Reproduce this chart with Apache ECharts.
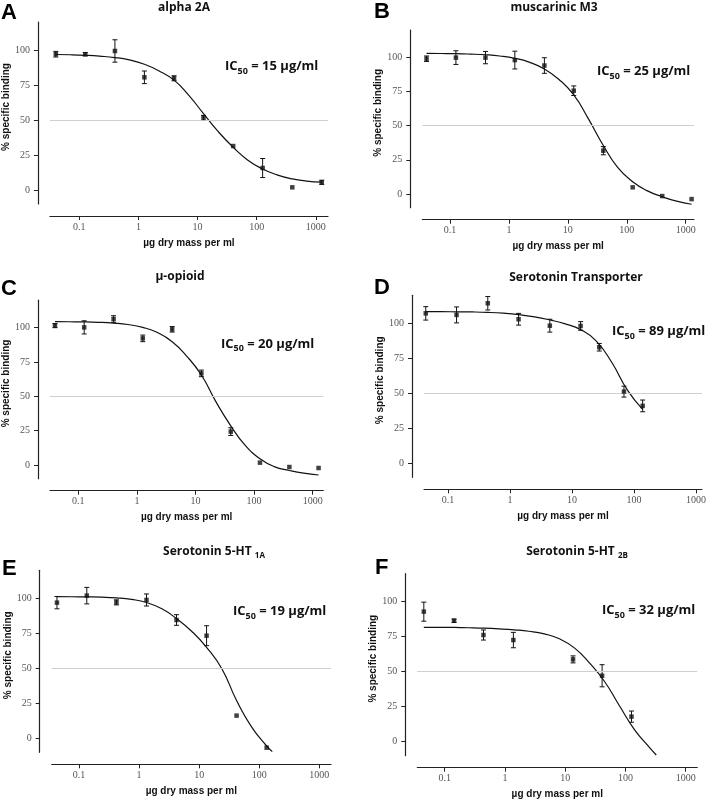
<!DOCTYPE html>
<html>
<head>
<meta charset="utf-8">
<script src="https://cdn.jsdelivr.net/npm/echarts@6/dist/echarts.min.js"></script>
<style>
html, body { margin: 0; padding: 0; background: #fff; }
#chart { width: 709px; height: 802px; }
</style>
</head>
<body>
<div id="chart"></div>
<script>
// tick labels
const xTickValues = [0.1, 1, 10, 100, 1000];
const xTickLabels = ['0.1', '1', '10', '100', '1000'];
const yTickValues = [0, 25, 50, 75, 100];

const panelLetters = ['A', 'B', 'C', 'D', 'E', 'F'];
const panelTitles = ['alpha 2A', 'muscarinic M3', 'µ-opioid', 'Serotonin Transporter', 'Serotonin 5-HT ', 'Serotonin 5-HT '];
const titleSubs = ['', '', '', '', '1A', '2B'];
const ic50Values = ['15', '25', '20', '89', '19', '32'];

// A - alpha 2A
const concA = [0.04, 0.126, 0.4, 1.26, 4, 12.6, 40, 126, 400, 1260];
const bindA = [97, 97, 99.3, 80.5, 79.8, 51.5, 31.4, 15.7, 1.9, 5.5];
const semA = [2, 1.2, 8, 4.5, 1.8, 1.8, 0, 6.8, 0, 1.5];
const fitConcA = [0.04, 0.07, 0.126, 0.22, 0.4, 0.7, 1.26, 2.2, 4, 7, 12.6, 22, 40, 70, 126, 220, 400, 700, 1260];
const fitBindA = [96.8, 96.6, 96.2, 95.6, 94.6, 92.9, 89.8, 85.2, 78.5, 68, 54.5, 42, 30.5, 21.5, 15, 10.8, 7.9, 6.4, 5.6];

// B - muscarinic M3
const concB = [0.04, 0.126, 0.4, 1.26, 4, 12.6, 40, 126, 400, 1260];
const bindB = [99, 99.8, 99.8, 98, 94, 75.6, 31.7, 4.9, -1.5, -3.7];
const semB = [2, 5, 4.5, 6.5, 5.7, 3.5, 3, 0, 0, 0];
const fitConcB = [0.04, 0.07, 0.126, 0.22, 0.4, 0.7, 1.26, 2.2, 4, 7, 12.6, 22, 40, 70, 126, 220, 400, 700, 1260];
const fitBindB = [102.9, 102.8, 102.7, 102.4, 101.9, 101, 99.3, 96.5, 91.5, 84, 72.5, 55.5, 35.5, 19.5, 9, 2.5, -2, -5.2, -7.5];

// C - mu-opioid
const concC = [0.04, 0.126, 0.4, 1.26, 4, 12.6, 40, 126, 400, 1260];
const bindC = [101.5, 100.2, 106.3, 92.2, 98.8, 66.7, 24.3, 1.7, -1.5, -2.2];
const semC = [1.5, 4.8, 2.4, 2.4, 2, 2.4, 2.8, 0, 0, 0];
const fitConcC = [0.04, 0.07, 0.126, 0.22, 0.4, 0.7, 1.26, 2.2, 4, 7, 12.6, 22, 40, 70, 126, 220, 400, 700, 1260];
const fitBindC = [104.4, 104.3, 104.2, 103.9, 103.3, 102.3, 100.2, 96.6, 89.8, 79.5, 65.5, 46.5, 28.5, 14.5, 4.5, -1.2, -4, -6, -7.3];

// D - serotonin transporter
const concD = [0.044, 0.138, 0.44, 1.38, 4.4, 13.8, 27.6, 69, 138];
const bindD = [107.1, 106, 114.3, 102.9, 98.3, 98.1, 82.9, 51.2, 41];
const semD = [4.8, 5.7, 4.8, 4.2, 4.6, 3.1, 2.7, 3.9, 4.2];
const fitConcD = [0.044, 0.078, 0.138, 0.25, 0.44, 0.78, 1.38, 2.5, 4.4, 7.8, 13.8, 24.5, 44, 78, 138];
const fitBindD = [108.3, 108.3, 108.2, 108.1, 107.8, 107.2, 106.2, 104.6, 102.4, 99.6, 95.5, 87.5, 72, 52.5, 38.5];

// E - 5-HT1A
const concE = [0.043, 0.135, 0.42, 1.33, 4.2, 13.3, 42, 133];
const bindE = [96.9, 101.9, 97.1, 98.8, 84.5, 73.3, 16.2, -6.7];
const semE = [4.4, 5.9, 1.8, 4.3, 3.8, 7.1, 0, 0];
const fitConcE = [0.042, 0.075, 0.133, 0.24, 0.42, 0.75, 1.33, 2.4, 4.2, 7.5, 13.3, 24, 42, 75, 133, 165];
const fitBindE = [101.2, 101.1, 101, 100.8, 100.3, 99.2, 97, 92.5, 85.5, 76.5, 65, 49.5, 27, 8, -5.5, -9.5];

// F - 5-HT2B
const concF = [0.045, 0.143, 0.44, 1.38, 13.5, 41, 126];
const bindF = [92.9, 86.4, 76.2, 72.6, 58.8, 47.1, 17.9];
const semF = [6.8, 1.2, 3.6, 5.5, 2.5, 7.9, 4];
const fitConcF = [0.045, 0.08, 0.142, 0.25, 0.45, 0.8, 1.42, 2.5, 4.5, 8, 14.2, 25, 45, 80, 142, 250, 325];
const fitBindF = [81.7, 81.7, 81.6, 81.4, 81.1, 80.6, 79.9, 78.9, 77, 73.5, 67, 56.5, 43, 25.5, 8.5, -4, -9.5];

const panels = [
    { conc: concA, bind: bindA, sem: semA, fitConc: fitConcA, fitBind: fitBindA },
    { conc: concB, bind: bindB, sem: semB, fitConc: fitConcB, fitBind: fitBindB },
    { conc: concC, bind: bindC, sem: semC, fitConc: fitConcC, fitBind: fitBindC },
    { conc: concD, bind: bindD, sem: semD, fitConc: fitConcD, fitBind: fitBindD },
    { conc: concE, bind: bindE, sem: semE, fitConc: fitConcE, fitBind: fitBindE },
    { conc: concF, bind: bindF, sem: semF, fitConc: fitConcF, fitBind: fitBindF }
];

// layout of each panel (pixels) and x range (log10)
const layout = [
    { left: 48, top: 22, width: 280, height: 182, xMin: -1.498, xMax: 3.206, title: [184, 8], letter: [1, 12.5], ic: [225, 66.5] },
    { left: 422.3, top: 30, width: 271.7, height: 177.7, xMin: -1.47, xMax: 3.141, title: [554, 8], letter: [374, 12], ic: [597, 71.5] },
    { left: 50, top: 300.2, width: 273.3, height: 178.5, xMin: -1.483, xMax: 3.181, title: [180, 277], letter: [1, 288.5], ic: [221, 344] },
    { left: 424, top: 295.3, width: 279.3, height: 182, xMin: -1.385, xMax: 3.096, title: [576, 277.5], letter: [374, 288], ic: [612, 331.5] },
    { left: 51.7, top: 570.3, width: 279.3, height: 182, xMin: -1.454, xMax: 3.195, title: [214, 552], letter: [2, 569], ic: [233, 611.5] },
    { left: 417.3, top: 573.7, width: 280, height: 182, xMin: -1.455, xMax: 3.193, title: [577, 552], letter: [375, 568], ic: [602, 610.5] }
];

const chart = echarts.init(document.getElementById('chart'));

const xTickLog = xTickValues.map(v => Math.log10(v));
const axisColor = '#222';
const labelFont = 'Liberation Serif';
const textFont = 'Open Sans';

function errorBar(params, api) {
    const x = api.value(0), y = api.value(1), e = api.value(2);
    const hi = api.coord([x, y + e]);
    const lo = api.coord([x, y - e]);
    const hw = 2.5;
    const st = { stroke: '#111', lineWidth: 1 };
    return {
        type: 'group',
        children: [
            { type: 'line', shape: { x1: hi[0], y1: hi[1], x2: lo[0], y2: lo[1] }, style: st },
            { type: 'line', shape: { x1: hi[0] - hw, y1: hi[1], x2: hi[0] + hw, y2: hi[1] }, style: st },
            { type: 'line', shape: { x1: lo[0] - hw, y1: lo[1], x2: lo[0] + hw, y2: lo[1] }, style: st }
        ]
    };
}

const grids = [], xAxes = [], yAxes = [], series = [], titles = [];

panels.forEach((p, i) => {
    const L = layout[i];
    grids.push({ left: L.left, top: L.top, width: L.width, height: L.height });

    xAxes.push({
        gridIndex: i,
        type: 'value',
        min: L.xMin,
        max: L.xMax,
        offset: 12,
        axisLine: { show: true, onZero: false, lineStyle: { color: axisColor, width: 1.2 } },
        axisTick: { show: true, length: 4, customValues: xTickLog, lineStyle: { color: axisColor } },
        axisLabel: {
            customValues: xTickLog,
            margin: 6,
            fontFamily: labelFont,
            fontSize: 10,
            color: '#555',
            formatter: v => {
                const k = xTickLog.findIndex(t => Math.abs(t - v) < 1e-6);
                return k >= 0 ? xTickLabels[k] : '';
            }
        },
        splitLine: { show: false },
        name: 'µg dry mass per ml',
        nameLocation: 'middle',
        nameGap: 22,
        nameTextStyle: { fontFamily: 'Liberation Sans', fontWeight: 'bold', fontSize: 10, color: '#111' }
    });

    yAxes.push({
        gridIndex: i,
        type: 'value',
        min: -10,
        max: 120,
        offset: 12,
        axisLine: { show: true, onZero: false, lineStyle: { color: axisColor, width: 1.2 } },
        axisTick: { show: true, length: 4, customValues: yTickValues, lineStyle: { color: axisColor } },
        axisLabel: { customValues: yTickValues, margin: 8, fontFamily: labelFont, fontSize: 10, color: '#555' },
        splitLine: { show: false },
        name: '% specific binding',
        nameLocation: 'middle',
        nameGap: 25,
        nameTextStyle: { fontFamily: 'Liberation Sans', fontWeight: 'bold', fontSize: 10, color: '#111', padding: [0, 0, 0, 12] }
    });

    // fitted curve + 50% reference line
    series.push({
        type: 'line',
        xAxisIndex: i,
        yAxisIndex: i,
        data: p.fitConc.map((c, k) => [Math.log10(c), p.fitBind[k]]),
        smooth: 0.5,
        showSymbol: false,
        symbol: 'none',
        lineStyle: { color: '#111', width: 1.2 },
        silent: true,
        markLine: {
            silent: true,
            symbol: 'none',
            label: { show: false },
            lineStyle: { color: '#cfcfcf', type: 'solid', width: 1 },
            data: [{ yAxis: 50 }]
        },
        z: 3
    });

    // error bars
    series.push({
        type: 'custom',
        xAxisIndex: i,
        yAxisIndex: i,
        renderItem: errorBar,
        encode: { x: 0, y: 1 },
        data: p.conc.map((c, k) => [Math.log10(c), p.bind[k], p.sem[k]]).filter(d => d[2] > 0),
        silent: true,
        z: 4
    });

    // points
    series.push({
        type: 'scatter',
        xAxisIndex: i,
        yAxisIndex: i,
        symbol: 'rect',
        symbolSize: 4.5,
        itemStyle: { color: '#111' },
        data: p.conc.map((c, k) => [Math.log10(c), p.bind[k]]),
        silent: true,
        z: 5
    });

    // panel letter
    titles.push({
        text: panelLetters[i],
        left: L.letter[0], top: L.letter[1],
        textAlign: 'left', textVerticalAlign: 'middle', padding: 0,
        textStyle: { fontFamily: 'Liberation Sans', fontWeight: 'bold', fontSize: 22, color: '#000' }
    });

    // title (with subscript for receptor subtype)
    const titleText = titleSubs[i]
        ? '{m|' + panelTitles[i] + '}{s|' + titleSubs[i] + '}'
        : '{m|' + panelTitles[i] + '}';
    titles.push({
        text: titleText,
        left: L.title[0], top: L.title[1],
        textAlign: 'center', textVerticalAlign: 'middle', padding: 0,
        textStyle: {
            rich: {
                m: { fontFamily: textFont, fontWeight: 'bold', fontSize: 12, color: '#111', lineHeight: 16 },
                s: { fontFamily: textFont, fontWeight: 'bold', fontSize: 8, color: '#111', lineHeight: 8, verticalAlign: 'bottom' }
            }
        }
    });

    // IC50 annotation
    titles.push({
        text: '{a|IC}{s|50}{a| = ' + ic50Values[i] + ' µg/ml}',
        left: L.ic[0], top: L.ic[1],
        textAlign: 'left', textVerticalAlign: 'middle', padding: 0,
        textStyle: {
            rich: {
                a: { fontFamily: textFont, fontWeight: 'bold', fontSize: 13, color: '#111', lineHeight: 18 },
                s: { fontFamily: textFont, fontWeight: 'bold', fontSize: 9, color: '#111', lineHeight: 10, verticalAlign: 'bottom' }
            }
        }
    });
});

chart.setOption({
    backgroundColor: '#fff',
    animation: false,
    title: titles,
    grid: grids,
    xAxis: xAxes,
    yAxis: yAxes,
    series: series
});
</script>
</body>
</html>
